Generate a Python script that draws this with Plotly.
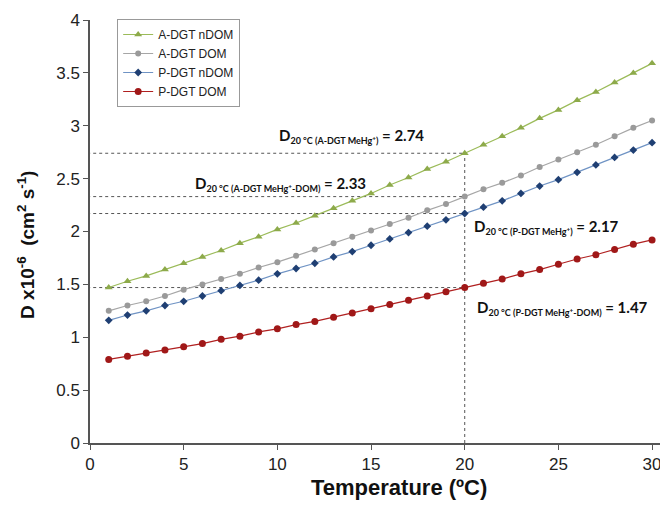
import plotly.graph_objects as go

temperature = list(range(1, 31))
a_dgt_ndom = [1.47, 1.53, 1.58, 1.64, 1.70, 1.76, 1.82, 1.89, 1.95, 2.02,
              2.08, 2.15, 2.22, 2.29, 2.36, 2.44, 2.51, 2.59, 2.66, 2.74,
              2.82, 2.90, 2.98, 3.07, 3.15, 3.24, 3.32, 3.41, 3.50, 3.59]
a_dgt_dom = [1.25, 1.30, 1.34, 1.39, 1.45, 1.50, 1.55, 1.60, 1.66, 1.71,
             1.77, 1.83, 1.89, 1.95, 2.01, 2.07, 2.13, 2.20, 2.26, 2.33,
             2.40, 2.46, 2.53, 2.61, 2.68, 2.75, 2.82, 2.90, 2.98, 3.05]
p_dgt_ndom = [1.16, 1.21, 1.25, 1.30, 1.34, 1.39, 1.44, 1.49, 1.54, 1.60,
              1.65, 1.70, 1.76, 1.81, 1.87, 1.93, 1.99, 2.05, 2.11, 2.17,
              2.23, 2.29, 2.36, 2.43, 2.49, 2.56, 2.63, 2.70, 2.77, 2.84]
p_dgt_dom = [0.79, 0.82, 0.85, 0.88, 0.91, 0.94, 0.98, 1.01, 1.05, 1.08,
             1.12, 1.15, 1.19, 1.23, 1.27, 1.31, 1.35, 1.39, 1.43, 1.47,
             1.51, 1.55, 1.60, 1.64, 1.69, 1.74, 1.78, 1.83, 1.88, 1.92]

series_names = ["A-DGT nDOM", "A-DGT DOM", "P-DGT nDOM", "P-DGT DOM"]
ref_temp = 20
ref_values = [2.74, 2.33, 2.17, 1.47]
ref_subs = [
    "20 °C (A-DGT MeHg<sup>+</sup>)",
    "20 °C (A-DGT MeHg<sup>+</sup>-DOM)",
    "20 °C (P-DGT MeHg<sup>+</sup>)",
    "20 °C (P-DGT MeHg<sup>+</sup>-DOM)",
]
ref_value_text = ["2.74", "2.33", "2.17", "1.47"]

x_ticks = [0, 5, 10, 15, 20, 25, 30]
y_ticks = [0, 0.5, 1, 1.5, 2, 2.5, 3, 3.5, 4]
y_tick_text = ["0", "0.5", "1", "1.5", "2", "2.5", "3", "3.5", "4"]
x_title = "<b>Temperature (ºC)</b>"
y_title = "<b>D x10<sup>-6</sup>  (cm<sup>2</sup> s<sup>-1</sup>)</b>"

fig = go.Figure()

# dashed reference lines
for v in ref_values:
    fig.add_trace(go.Scatter(x=[-0.15, ref_temp], y=[v, v], mode="lines",
                             line=dict(color="#555555", width=1, dash="dot"),
                             showlegend=False, hoverinfo="skip", cliponaxis=False))
fig.add_trace(go.Scatter(x=[ref_temp, ref_temp], y=[0, max(ref_values)], mode="lines",
                         line=dict(color="#555555", width=1, dash="dot"),
                         showlegend=False, hoverinfo="skip"))

styles = [
    dict(line="#9BBB59", marker="#8DAA4A", symbol="triangle-up", size=7),
    dict(line="#A6A6A6", marker="#9A9A9A", symbol="circle", size=6),
    dict(line="#6F93C4", marker="#1F3F73", symbol="diamond", size=6),
    dict(line="#B02020", marker="#A01818", symbol="circle", size=7),
]
for name, ys, st in zip(series_names, [a_dgt_ndom, a_dgt_dom, p_dgt_ndom, p_dgt_dom], styles):
    fig.add_trace(go.Scatter(x=temperature, y=ys, mode="lines+markers", name=name,
                             line=dict(color=st["line"], width=1.2),
                             marker=dict(color=st["marker"], symbol=st["symbol"], size=st["size"]),
                             cliponaxis=False))

ann_pos = [
    dict(x=9.98, y=ref_values[0], yanchor="bottom", yshift=5),
    dict(x=5.5, y=ref_values[1], yanchor="bottom", yshift=1),
    dict(x=20.4, y=ref_values[2], yanchor="top", yshift=-1),
    dict(x=20.55, y=ref_values[3], yanchor="top", yshift=-8),
]
for sub, val, p in zip(ref_subs, ref_value_text, ann_pos):
    txt = ("<b>D<sub><span style='font-size:9px'>" + sub + "</span></sub> = " + val + "</b>")
    fig.add_annotation(text=txt, showarrow=False, xanchor="left",
                       font=dict(family="Lato, Liberation Sans", size=15, color="#111111"),
                       **p)

fig.add_annotation(text=x_title, xref="paper", yref="paper", x=0.535, y=-0.106,
                   xanchor="center", yanchor="middle", showarrow=False,
                   font=dict(family="Liberation Sans", size=22, color="#111111"))
fig.add_annotation(text=y_title, xref="paper", yref="paper", x=-0.111, y=0.468,
                   xanchor="center", yanchor="middle", showarrow=False, textangle=-90,
                   font=dict(family="Liberation Sans", size=19, color="#111111"))

fig.update_layout(
    width=660, height=501,
    margin=dict(l=82, r=0, t=12, b=66),
    paper_bgcolor="white", plot_bgcolor="white",
    font=dict(family="Liberation Sans, Arial", size=17, color="#222222"),
    legend=dict(x=0.047, y=1.0024, xanchor="left", yanchor="top",
                bgcolor="white", bordercolor="#999999", borderwidth=1,
                font=dict(size=12, color="#222222"), itemwidth=30,
                tracegroupgap=0),
    xaxis=dict(range=[0, 30.85], tickvals=x_ticks, showgrid=False, zeroline=False,
               showline=True, linecolor="#555555", linewidth=1.5,
               ticks="outside", ticklen=5, tickcolor="#555555"),
    yaxis=dict(range=[0, 4], tickvals=y_ticks, ticktext=y_tick_text, showgrid=False, zeroline=False,
               showline=True, linecolor="#555555", linewidth=1.5,
               ticks="outside", ticklen=5, tickcolor="#555555"),
)

fig.write_html("out.html")
